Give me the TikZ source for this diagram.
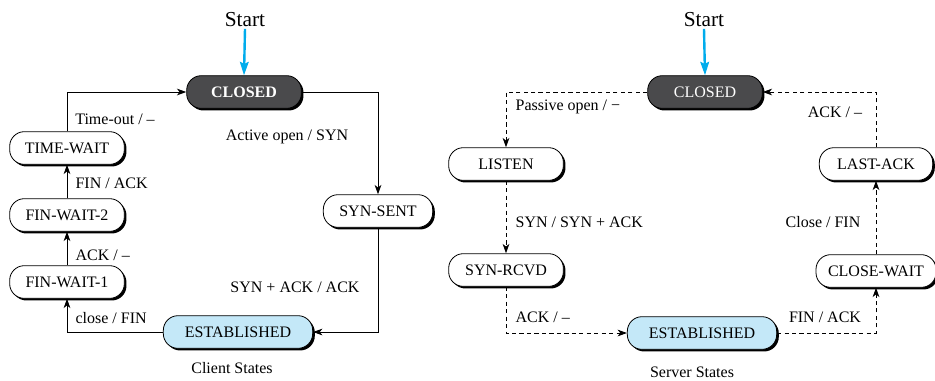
\documentclass[tikz,border=0pt]{standalone}
\usepackage{fontspec}
\setmainfont{Liberation Serif}
\usetikzlibrary{arrows.meta,shadows}
\definecolor{startblue}{RGB}{0,172,236}
\definecolor{closedgray}{RGB}{74,74,76}
\definecolor{estblue}{RGB}{196,232,248}
\begin{document}
\begin{tikzpicture}[
			x=0.75pt, y=-0.75pt,
			line cap=butt, line join=miter,
			state/.style={draw=black, line width=0.6pt, fill=white, rounded corners=11pt,
				minimum width=86pt, minimum height=24.5pt, inner sep=2pt,
				font=\fontsize{12}{14}\selectfont,
				drop shadow={shadow xshift=1.6pt, shadow yshift=-1.6pt, fill=black, opacity=1}},
			closed/.style={state, fill=closedgray, text=white},
			est/.style={state, fill=estblue, minimum width=112pt},
			lbl/.style={font=\fontsize{12}{14}\selectfont, inner sep=1pt},
			title/.style={font=\fontsize{12}{14}\selectfont},
			begin/.style={font=\fontsize{16}{18}\selectfont, inner sep=1pt},
			arr/.style={draw=black, line width=0.7pt, -{Stealth[length=7pt, width=5pt, inset=2pt]}},
			darr/.style={arr, dash pattern=on 3.2pt off 2.4pt},
			startarr/.style={draw=startblue, line width=1.8pt, -{Stealth[length=10pt, width=6.5pt, inset=1.5pt]}}
			]
			\useasboundingbox (0,0) rectangle (935,380);
			
			\node[begin] (s1) at (245,20) {Start};
			\node[closed, font=\fontsize{12}{14}\selectfont\bfseries] (c1) at (244,92) {CLOSED};
			\draw[startarr] (s1.south) -- (c1.north);
			
			\node[state] (tw) at (67,148) {TIME-WAIT};
			\node[state] (fw2) at (67,215) {FIN-WAIT-2};
			\node[state] (fw1) at (67,282) {FIN-WAIT-1};
			\node[est] (e1) at (238,332) {ESTABLISHED};
			\node[state, minimum width=82pt] (ss) at (378,211) {SYN-SENT};
			
			\draw[arr] (c1.east) -| (ss.north);
			\draw[arr] (ss.south) |- (e1.east);
			\draw[arr] (e1.west) -| (fw1.south);
			\draw[arr] (fw1.north) -- (fw2.south);
			\draw[arr] (fw2.north) -- (tw.south);
			\draw[arr] (tw.north) |- (c1.west);
			
			\node[lbl] (l1) at (287,137) {Active open / SYN};
			\node[lbl] (l2) at (295,287) {SYN + ACK / ACK};
			\node[lbl] (l3) at (115,119) {Time-out / –};
			\node[lbl, anchor=west] (l4) at (74,183) {FIN / ACK};
			\node[lbl, anchor=west] (l5) at (74,255) {ACK / –};
			\node[lbl, anchor=west] (l6) at (74,318) {close / FIN};
			\node[title] (t1) at (232,368) {Client States};
			
			\node[begin] (s2) at (704,20) {Start};
			\node[closed] (c2) at (705,92) {CLOSED};
			\draw[startarr] (s2.south) -- (c2.north);
			
			\node[state] (li) at (506,164) {LISTEN};
			\node[state] (sr) at (506,270) {SYN-RCVD};
			\node[est] (e2) at (702,333) {ESTABLISHED};
			\node[state, minimum width=85pt] (la) at (876,164) {LAST-ACK};
			\node[state, minimum width=90pt] (cw) at (876,271) {CLOSE-WAIT};
			
			\draw[darr] (c2.west) -| (li.north);
			\draw[darr] (li.south) -- (sr.north);
			\draw[darr] (sr.south) |- (e2.west);
			\draw[darr] (e2.east) -| (cw.south);
			\draw[darr] (cw.north) -- (la.south);
			\draw[darr] (la.north) |- (c2.east);
			
			\node[lbl, anchor=west] (r1) at (514,107) {Passive open / −};
			\node[lbl, anchor=west] (r2) at (514,222) {SYN / SYN + ACK};
			\node[lbl, anchor=west] (r3) at (514,317) {ACK / –};
			\node[lbl] (r4) at (835,112) {ACK / –};
			\node[lbl] (r5) at (823,222) {Close / FIN};
			\node[lbl] (r6) at (825,317) {FIN / ACK};
			\node[title] (t2) at (692,372) {Server States};
		\end{tikzpicture}
\end{document}
